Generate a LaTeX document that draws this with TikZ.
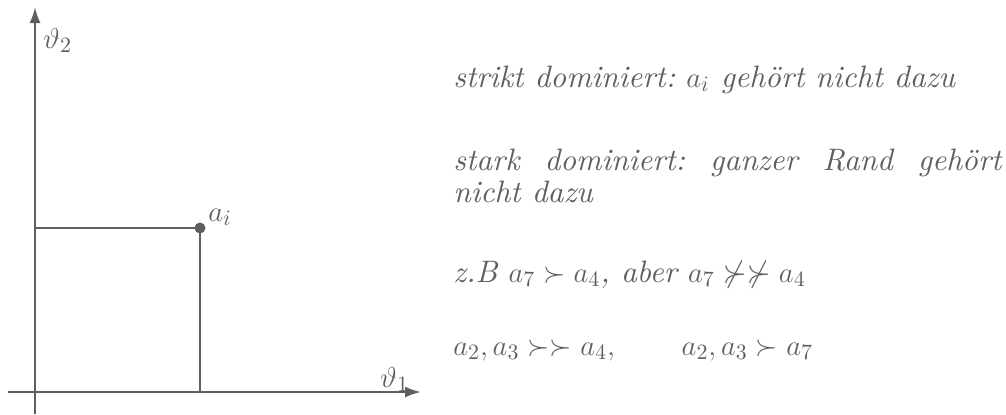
\documentclass[tikz,border=0pt]{standalone}
\usepackage{amssymb}
\usepackage{fontspec}
\setmainfont{lmroman10-regular.otf}[ItalicFont=lmroman10-italic.otf,BoldFont=lmroman10-bold.otf]
\usetikzlibrary{arrows.meta}
\definecolor{ink}{RGB}{95,95,95}
\tikzset{
  axis/.style={draw=ink,line width=1.1pt,-{Latex[length=8pt,width=5.5pt]}},
  guide/.style={draw=ink,line width=1.1pt},
  lbl/.style={text=ink,inner sep=0pt,anchor=base west,font=\fontsize{15}{15}\selectfont},
  txt/.style={text=ink,inner sep=0pt,anchor=base west,font=\fontsize{15.5}{16}\selectfont\itshape\frenchspacing},
  dot/.style={circle,fill=ink,inner sep=0pt,minimum size=5.5pt}
}
\begin{document}
\begin{tikzpicture}[x=0.5pt,y=-0.5pt]
\useasboundingbox (0,0) rectangle (1006,414);
\coordinate (xs) at (8,392);
\coordinate (xe) at (421,392);
\coordinate (ys) at (35,414);
\coordinate (ye) at (35,7);
\coordinate (hx) at (35,228);
\coordinate (vx) at (200,392);
\node[dot] (ai) at (200,228) {};
\draw[axis] (xs) -- (xe);
\draw[axis] (ys) -- (ye);
\draw[guide] (hx) -- (ai.center) -- (vx);
\node[lbl] (lai) at (208,221) {$a_i$};
\node[lbl] (l2) at (43,48) {$\vartheta_2$};
\node[lbl] (l1) at (380,387) {$\vartheta_1$};
\node[txt] (t1) at (453,87) {strikt dominiert: $a_i$ gehört nicht dazu};
\node[txt,text width=548*0.5pt,align=justify] (t2) at (453,170) {stark dominiert: ganzer Rand gehört nicht dazu};
\node[txt] (t3) at (453,282) {z.B $a_7 \succ a_4$, aber $a_7 \nsucc\nsucc a_4$};
\node[txt] (t4) at (453,355) {$a_2, a_3 \succ\succ a_4,\qquad a_2, a_3 \succ a_7$};
\end{tikzpicture}
\end{document}
